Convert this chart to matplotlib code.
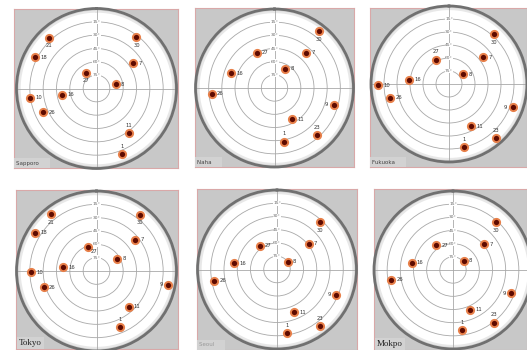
import matplotlib
matplotlib.use("Agg")
import matplotlib.pyplot as plt
import numpy as np

W, H = 527, 350

# satellite PRN, azimuth (deg, clockwise from north), elevation (deg)
sapporo_prn = [21, 30, 18, 7, 27, 8, 10, 16, 26, 11, 1]
sapporo_az = [317, 38, 297, 55, 327, 77, 262, 260, 246, 144, 159]
sapporo_el = [12, 17, 12, 40, 69, 68, 15, 51, 24, 28, 11]

naha_prn = [30, 27, 7, 16, 8, 26, 9, 11, 23, 1]
naha_az = [38, 333, 42, 289, 29, 265, 106, 150, 138, 170]
naha_el = [8, 45, 36, 38, 65, 18, 20, 49, 18, 28]

fukuoka_prn = [30, 27, 7, 10, 16, 8, 26, 9, 11, 23, 1]
fukuoka_az = [42, 331, 52, 269, 276, 56, 257, 110, 152, 139, 167]
fukuoka_el = [13, 58, 40, 8, 44, 70, 20, 12, 35, 7, 15]

tokyo_prn = [21, 30, 18, 7, 27, 8, 10, 16, 26, 9, 11, 1]
tokyo_az = [321, 38, 302, 51, 340, 60, 269, 276, 253, 101, 138, 157]
tokyo_el = [8, 10, 9, 34, 61, 63, 16, 52, 28, 8, 36, 21]

seoul_prn = [30, 27, 7, 16, 8, 26, 9, 11, 23, 1]
seoul_az = [42, 324, 51, 278, 54, 260, 113, 158, 143, 171]
seoul_el = [18, 57, 44, 41, 75, 18, 17, 38, 10, 17]

mokpo_prn = [30, 27, 7, 16, 8, 26, 9, 11, 23, 1]
mokpo_az = [42, 326, 50, 280, 49, 261, 112, 157, 142, 171]
mokpo_el = [17, 56, 44, 42, 74, 19, 19, 41, 14, 21]

ring_el = [15, 30, 45, 60, 75]

# panel layout in pixels: (box l, t, r, b), (circle cx, cy, R)
panels = [
    ("Sapporo", sapporo_prn, sapporo_az, sapporo_el, (14, 9, 178, 168), (96.5, 88.5, 80),
     {21: "b", 30: "b", 11: "a", 1: "a", 27: "b"}, "sans"),
    ("Naha", naha_prn, naha_az, naha_el, (195, 8, 354, 167), (274.5, 88, 79),
     {30: "b", 9: "l", 23: "a", 1: "a"}, "sans"),
    ("Fukuoka", fukuoka_prn, fukuoka_az, fukuoka_el, (370, 8, 527, 167), (449, 84, 78),
     {30: "b", 9: "l", 23: "a", 1: "a", 27: "a"}, "sans"),
    ("Tokyo", tokyo_prn, tokyo_az, tokyo_el, (16, 190, 178, 349), (96.5, 271, 80),
     {21: "b", 30: "b", 9: "l", 1: "a", 27: "br"}, "serif"),
    ("Seoul", seoul_prn, seoul_az, seoul_el, (197, 189, 357, 350), (277, 269.5, 79.5),
     {30: "b", 9: "l", 23: "a", 1: "a"}, "light"),
    ("Mokpo", mokpo_prn, mokpo_az, mokpo_el, (374, 189, 527, 350), (453, 270, 79),
     {30: "b", 9: "l", 23: "a", 1: "a"}, "serif"),
]

offsets = {"r": ((3.8, 0), "left", "center"), "l": ((-3.8, 0), "right", "center"),
           "a": ((0, 3.8), "center", "bottom"), "b": ((0, -3.8), "center", "top"),
           "br": ((2.5, -1.5), "left", "top")}

fig = plt.figure(figsize=(W / 100, H / 100), dpi=100)
fig.patch.set_facecolor("white")

for name, prn, az, el, box, circ, sides, style in panels:
    l, t, r, b = box
    bg = fig.add_axes([l / W, 1 - b / H, (r - l) / W, (b - t) / H])
    bg.set_facecolor("#c8c8c8")
    bg.set_xticks([])
    bg.set_yticks([])
    for s in bg.spines.values():
        s.set_color("#d9a8a8")
        s.set_linewidth(0.8)

    cx, cy, R = circ
    ax = fig.add_axes([(cx - R) / W, 1 - (cy + R) / H, 2 * R / W, 2 * R / H], projection="polar")
    ax.set_facecolor("white")
    ax.set_theta_zero_location("N")
    ax.set_theta_direction(-1)
    ax.set_ylim(0, 90)
    ax.set_yticks([90 - e for e in ring_el])
    ax.set_xticks(np.radians([0, 90, 180, 270]))
    ax.set_xticklabels([])
    ax.set_yticklabels([])
    ax.grid(color="#a8a8a8", linewidth=0.6)
    ax.spines["polar"].set_color("#707070")
    ax.spines["polar"].set_linewidth(2.0)
    th = np.linspace(0, 2 * np.pi, 200)
    ax.plot(th, np.full_like(th, 88.3), color="#d2d2d2", lw=2.2, zorder=1)
    ax.plot(th, np.full_like(th, 86.5), color="#e8e8e8", lw=1.5, zorder=1)

    for e in ring_el:
        ax.text(0, 90 - e, f"{e}°", fontsize=3.2, color="#666666", ha="center", va="center",
                bbox=dict(facecolor="white", edgecolor="none", pad=0.2), zorder=3)

    theta = np.radians(az)
    rad = 90 - np.array(el)
    ax.plot(theta, rad, "o", ms=5.2, mfc="#5e0a00", mec="#e8804a", mew=1.4, zorder=5, clip_on=False)
    for p, tt, rr in zip(prn, theta, rad):
        off, ha, va = offsets[sides.get(p, "r")]
        ax.annotate(str(p), (tt, rr), xytext=off, textcoords="offset points",
                    fontsize=3.8, color="#333333", ha=ha, va=va, zorder=6, annotation_clip=False)

    if style == "serif":
        fig.text((l + 3) / W, 1 - (b - 2) / H, name, fontsize=6.5, family="Liberation Serif",
                 color="#222222", ha="left", va="bottom",
                 bbox=dict(facecolor="#d2d2d2", edgecolor="none", pad=1.5))
    else:
        col = "#999999" if style == "light" else "#444444"
        fig.text((l + 2) / W, 1 - (b - 2.5) / H, name + "     ", fontsize=4, color=col,
                 ha="left", va="bottom",
                 bbox=dict(facecolor="#d2d2d2", edgecolor="none", pad=1.5))

fig.savefig("out.png", dpi=100)
